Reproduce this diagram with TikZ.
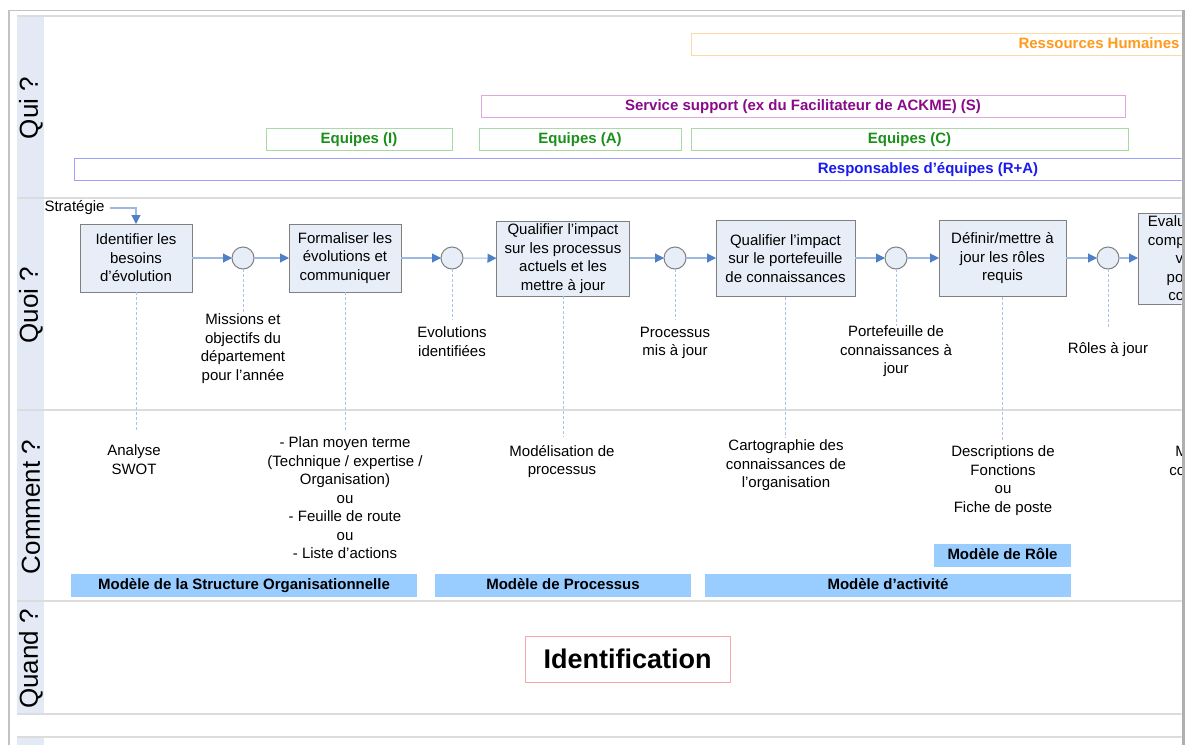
\documentclass[tikz,border=0pt]{standalone}
\usepackage{fontspec}
\setmainfont{Liberation Sans}
\usetikzlibrary{arrows.meta}
\definecolor{framegray}{HTML}{C3C3C3}
\definecolor{sepgray}{HTML}{DCDCDC}
\definecolor{hdrfill}{HTML}{E4EAF5}
\definecolor{boxfill}{HTML}{E8EEF8}
\definecolor{boxdraw}{HTML}{808080}
\definecolor{flowline}{HTML}{9DB9E0}
\definecolor{flowtip}{HTML}{4F7FC6}
\definecolor{dashblue}{HTML}{A8C2EA}
\definecolor{modelfill}{HTML}{99CCFF}
\definecolor{rhdraw}{HTML}{FFD8A8}
\definecolor{rhtext}{HTML}{FF9A1A}
\definecolor{ssdraw}{HTML}{DDA8DD}
\definecolor{sstext}{HTML}{8A0A8A}
\definecolor{eqdraw}{HTML}{A8DAA8}
\definecolor{eqtext}{HTML}{1A8F1A}
\definecolor{rsdraw}{HTML}{A0A0FF}
\definecolor{rstext}{HTML}{1A1AF0}
\definecolor{iddraw}{HTML}{F4A8A8}
\begin{document}
\begin{tikzpicture}[x=1pt,y=-1pt,
  every node/.style={inner sep=0pt, outer sep=0pt},
  txt/.style={font=\fontsize{15}{18.5}\selectfont, align=center},
  actbox/.style={txt, draw=boxdraw, fill=boxfill, line width=1pt},
  evt/.style={circle, draw=boxdraw, fill=boxfill, line width=1pt, minimum size=22pt},
  flow/.style={draw=flowline, line width=1.1pt, -{Triangle[length=9pt,width=9pt,color=flowtip]}},
  dline/.style={draw=dashblue, line width=0.8pt, dash pattern=on 3pt off 2pt},
  rolebox/.style={font=\fontsize{15}{18}\selectfont\bfseries, line width=1pt, minimum height=22pt, text height=11pt, text depth=3pt},
  modelbar/.style={font=\fontsize{15}{18}\selectfont\bfseries, fill=modelfill, minimum height=23pt, text height=11pt, text depth=3pt},
  lanehdr/.style={font=\fontsize{26}{30}\selectfont, rotate=90},
]
\useasboundingbox (0,0) rectangle (1186,745);
\fill[white] (0,0) rectangle (1186,745);
% outer frame
\draw[framegray, line width=1.6pt] (9,745) -- (9,10.5) -- (1184,10.5);
\fill[framegray!90!black] (1181.5,9.7) rectangle (1185,745);
\begin{scope}
\clip (9,11) rectangle (1181.5,745);
% lane headers
\fill[hdrfill] (17,16) rectangle (44,714);
\fill[hdrfill] (17,737) rectangle (44,745);
\foreach \yy in {16,198,410,601,714,737} \draw[sepgray, line width=1.2pt] (17,\yy) -- (1181.5,\yy);
\node[lanehdr] (hqui) at (31,108) {Qui ?};
\node[lanehdr] (hquoi) at (31,305) {Quoi ?};
\node[lanehdr] (hcomm) at (31,507) {Comment ?};
\node[lanehdr] (hquand) at (31,659) {Quand ?};
% Qui lane
\node[rolebox, draw=rhdraw, text=rhtext, minimum width=816pt] (rh) at (1099,44) {Ressources Humaines};
\node[rolebox, draw=ssdraw, text=sstext, minimum width=644pt] (ss) at (803,106) {Service support (ex du Facilitateur de ACKME) (S)};
\node[rolebox, draw=eqdraw, text=eqtext, minimum width=186pt] (eqi) at (359,139) {Equipes (I)};
\node[rolebox, draw=eqdraw, text=eqtext, minimum width=202pt] (eqa) at (580,139) {Equipes (A)};
\node[rolebox, draw=eqdraw, text=eqtext, minimum width=437pt] (eqc) at (909.5,139) {Equipes (C)};
\node[rolebox, draw=rsdraw, text=rstext, minimum width=1708pt] (resp) at (928,169) {Responsables d’équipes (R+A)};
% Quoi lane
\node[actbox, minimum width=112pt, minimum height=68pt] (b1) at (136,258) {Identifier les\\besoins\\d’évolution};
\node[actbox, minimum width=112pt, minimum height=68pt] (b2) at (345,258) {Formaliser les\\évolutions et\\communiquer};
\node[actbox, minimum width=133pt, minimum height=75pt] (b3) at (563,258.5) {Qualifier l’impact\\sur les processus\\actuels et les\\mettre à jour};
\node[actbox, minimum width=139pt, minimum height=76pt] (b4) at (785.5,258.5) {Qualifier l’impact\\sur le portefeuille\\de connaissances};
\node[actbox, minimum width=127pt, minimum height=76pt] (b5) at (1002.5,258.5) {Définir/mettre à\\jour les rôles\\requis};
\node[actbox, minimum width=130pt, minimum height=91pt] (b6) at (1203,258.5) {Evaluer/mettre à\\compétences de\\vis-à-vis\\postes des\\concernés};
\node[evt] (c1) at (243,258) {};
\node[evt] (c2) at (452,258) {};
\node[evt] (c3) at (675,258) {};
\node[evt] (c4) at (896,258) {};
\node[evt] (c5) at (1108,258) {};
\draw[flow] (b1) -- (c1);
\draw[flow] (c1) -- (b2);
\draw[flow] (b2) -- (c2);
\draw[flow] (c2) -- (b3);
\draw[flow] (b3.east |- c3) -- (c3);
\draw[flow] (c3) -- (b4.west |- c3);
\draw[flow] (b4.east |- c4) -- (c4);
\draw[flow] (c4) -- (b5.west |- c4);
\draw[flow] (b5.east |- c5) -- (c5);
\draw[flow] (c5) -- (b6.west |- c5);
\node[txt, anchor=west] (strat) at (44.5,208) {Stratégie};
\draw[flow, shorten <=5pt] (strat.east) -| (b1.north);
\node[txt, anchor=north] (lmis) at (243,314) {Missions et\\objectifs du\\département\\pour l’année};
\node[txt, anchor=north] (levo) at (452,327) {Evolutions\\identifiées};
\node[txt, anchor=north] (lproc) at (675,327) {Processus\\mis à jour};
\node[txt, anchor=north] (lport) at (896,326) {Portefeuille de\\connaissances à\\jour};
\node[txt, anchor=north] (lrol) at (1108,342) {Rôles à jour};
% Comment lane
\node[txt, anchor=north] (cswot) at (134,445) {Analyse\\SWOT};
\node[txt, anchor=north] (cplan) at (345,437) {- Plan moyen terme\\(Technique / expertise /\\Organisation)\\ou\\- Feuille de route\\ou\\- Liste d’actions};
\node[txt, anchor=north] (cmod) at (562,445) {Modélisation de\\processus};
\node[txt, anchor=north] (ccart) at (786,440) {Cartographie des\\connaissances de\\l’organisation};
\node[txt, anchor=north] (cdesc) at (1003,446) {Descriptions de\\Fonctions\\ou\\Fiche de poste};
\node[txt, anchor=north] (cmat) at (1214,446) {Matrice des\\compétences};
\draw[dline, shorten >=15pt] (b1.south) -- (b1.south |- cswot.north);
\draw[dline] (c1.south) -- (c1.south |- lmis.north);
\draw[dline, shorten >=5pt] (b2.south) -- (b2.south |- cplan.north);
\draw[dline, shorten >=7pt] (c2.south) -- (c2.south |- levo.north);
\draw[dline, shorten >=8pt] (b3.south) -- (b3.south |- cmod.north);
\draw[dline, shorten >=7pt] (c3.south) -- (c3.south |- lproc.north);
\draw[dline, shorten >=3pt] (b4.south) -- (b4.south |- ccart.north);
\draw[dline] (c4.south) -- (c4.south |- lport.north);
\draw[dline, shorten >=5pt] (b5.south) -- (b5.south |- cdesc.north);
\draw[dline, shorten >=15pt] (c5.south) -- (c5.south |- lrol.north);
\node[modelbar, minimum width=137pt] (mrole) at (1002.5,555.5) {Modèle de Rôle};
\node[modelbar, minimum width=346pt] (mstruct) at (244,585.5) {Modèle de la Structure Organisationnelle};
\node[modelbar, minimum width=256pt] (mproc) at (563,585.5) {Modèle de Processus};
\node[modelbar, minimum width=366pt] (mact) at (888,585.5) {Modèle d’activité};
% Quand lane
\node[draw=iddraw, line width=1pt, minimum width=205pt, minimum height=46pt, font=\fontsize{27}{30}\selectfont\bfseries] (ident) at (627.5,659) {Identification};
\end{scope}
\end{tikzpicture}
\end{document}
